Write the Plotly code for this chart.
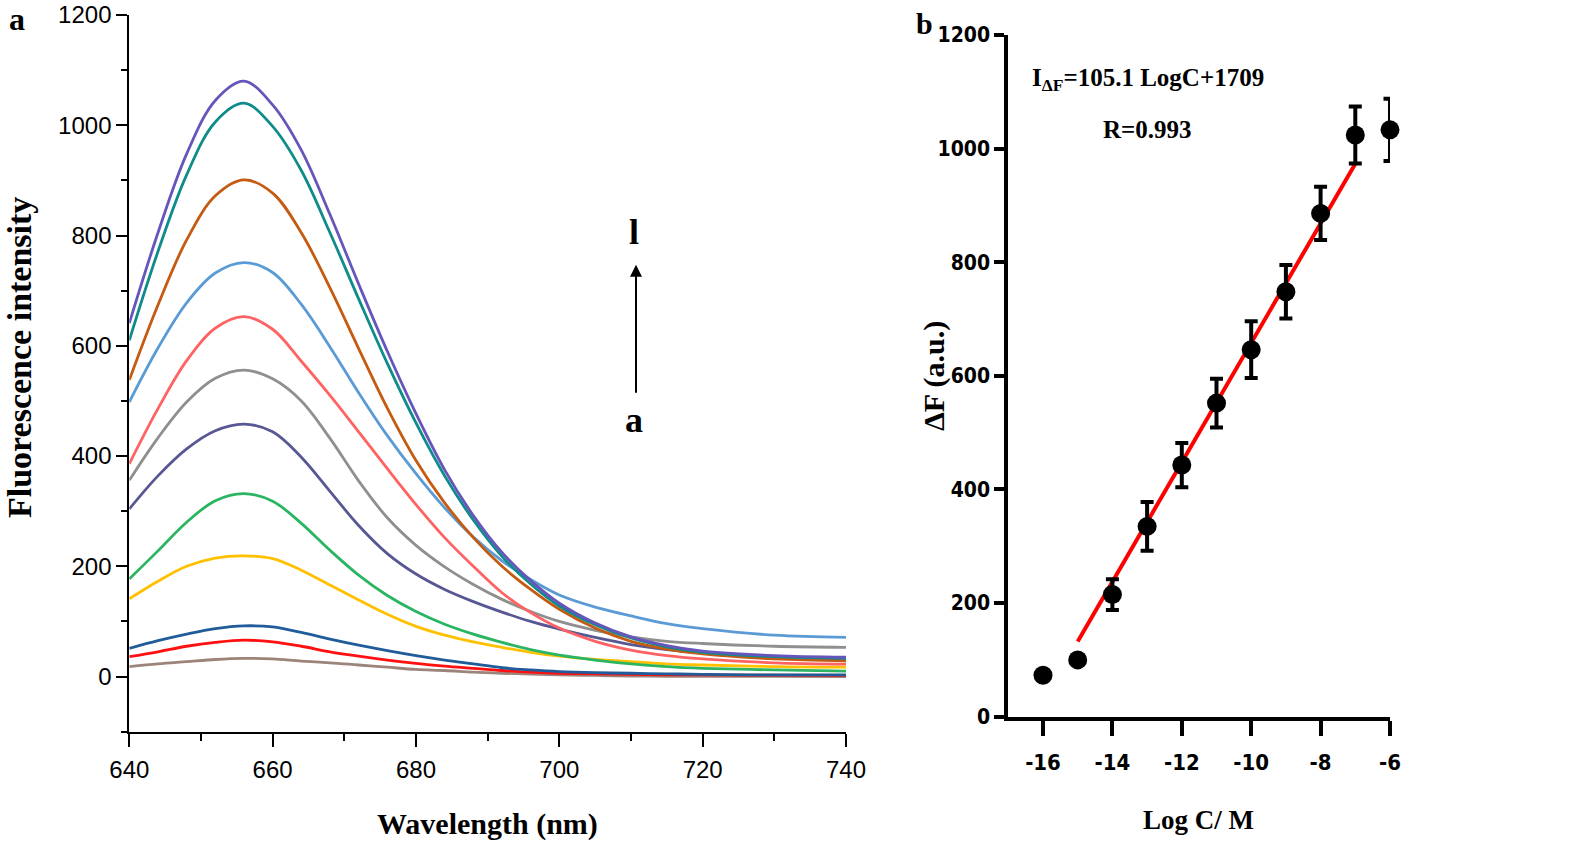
import plotly.graph_objects as go

# ---------------- Panel a: fluorescence spectra ----------------
wavelength = [640, 644, 648, 652, 656, 660, 664, 668, 672, 676, 680, 684, 688,
              692, 696, 700, 705, 710, 715, 720, 730, 740]

curve_a = [18, 23, 27, 31, 33, 32, 28, 25, 21, 17, 13, 11, 8, 6, 4.5, 3, 2, 1, 0.5, 0.5, 0.3, 0]
curve_b = [36, 45, 55, 62, 66, 63, 55, 45, 37, 30, 24, 19, 15, 11, 8, 6, 5, 4, 3, 3, 2.5, 2]
curve_c = [51, 65, 77, 87, 92, 90, 80, 68, 57, 47, 38, 30, 23, 16, 12, 9, 7, 6, 5, 4, 3, 3]
curve_d = [141, 173, 200, 215, 219, 214, 193, 166, 139, 113, 91, 75, 63, 53, 44, 37, 31, 27, 23, 21, 18, 17]
curve_e = [177, 228, 280, 319, 332, 318, 278, 229, 184, 147, 118, 95, 77, 62, 49, 39, 30, 23, 18, 15, 12, 10]
curve_f = [304, 364, 413, 446, 458, 444, 398, 336, 274, 223, 186, 158, 136, 117, 100, 86, 71, 58, 49, 43, 35, 31]
curve_g = [356, 433, 498, 541, 556, 540, 500, 432, 355, 288, 238, 199, 167, 140, 118, 100, 84, 72, 64, 60, 55, 53]
curve_h = [386, 486, 573, 632, 653, 630, 572, 510, 444, 377, 312, 252, 200, 152, 116, 88, 64, 48, 38, 32, 25, 22.5]
curve_i = [498, 596, 678, 732, 751, 733, 675, 598, 515, 437, 368, 306, 253, 210, 176, 148, 126, 110, 96, 87, 75, 71]
curve_j = [538, 674, 792, 872, 901, 877, 805, 705, 595, 487, 392, 315, 252, 200, 158, 122, 88, 64, 50, 41, 32, 28.5]
curve_k = [610, 771, 910, 1006, 1040, 998, 918, 805, 685, 568, 460, 364, 284, 218, 168, 128, 94, 70, 54, 44, 36, 33]
curve_l = [641, 805, 948, 1045, 1080, 1037, 955, 838, 712, 590, 477, 375, 292, 225, 174, 133, 97, 72, 56, 46, 38, 35]

curve_names = ["a", "b", "c", "d", "e", "f", "g", "h", "i", "j", "k", "l"]
curves = [curve_a, curve_b, curve_c, curve_d, curve_e, curve_f,
          curve_g, curve_h, curve_i, curve_j, curve_k, curve_l]
curve_colors = ["#9C847A", "#FF1010", "#1F5C99", "#FFC000", "#2BB562", "#575794",
                "#8F8F8F", "#FF6262", "#5B9BD5", "#C55A11", "#0E8C8A", "#6655BB"]

# ---------------- Panel b: calibration ----------------
log_c = [-16, -15, -14, -13, -12, -11, -10, -9, -8, -7, -6]
delta_f = [73, 100, 215, 335, 443, 552, 646, 748, 886, 1024, 1033]
delta_f_err = [0, 0, 27, 43, 39, 43, 50, 47, 47, 50, 55]
fit_slope = 105.1
fit_intercept = 1709
fit_range = [-15, -7]
x2_ticks = [-16, -14, -12, -10, -8, -6]
y_ticks = [0, 200, 400, 600, 800, 1000, 1200]

W, H = 1595, 847


def px(x):
    return x / W


def py(y):
    return 1 - y / H


fig = go.Figure()

for name, ys, col in zip(curve_names, curves, curve_colors):
    fig.add_trace(go.Scatter(
        x=wavelength, y=ys, mode="lines", name=name,
        line=dict(color=col, width=2.8, shape="spline", smoothing=1.0),
        xaxis="x", yaxis="y", showlegend=False, hoverinfo="skip"))

fit_y = [fit_slope * v + fit_intercept for v in fit_range]
fig.add_trace(go.Scatter(
    x=fit_range, y=fit_y, mode="lines",
    line=dict(color="#FF0000", width=4),
    xaxis="x2", yaxis="y2", showlegend=False, cliponaxis=False))

fig.add_trace(go.Scatter(
    x=log_c, y=delta_f, mode="markers",
    marker=dict(color="black", size=19, symbol="circle"),
    error_y=dict(type="data", array=delta_f_err, visible=True,
                 color="black", thickness=4, width=6.5),
    xaxis="x2", yaxis="y2", showlegend=False, cliponaxis=False))

sans = "Liberation Sans, Arial, sans-serif"
serif = "Liberation Serif, Times New Roman, serif"
narrow = "Liberation Sans Narrow, Arial Narrow, DejaVu Sans Condensed, sans-serif"

fig.update_layout(
    width=W, height=H,
    margin=dict(l=0, r=0, t=0, b=0, autoexpand=False),
    paper_bgcolor="white", plot_bgcolor="white",
    showlegend=False,
    xaxis=dict(
        domain=[px(129.3), px(846)], range=[640, 740], anchor="y",
        automargin=False, ticklabeloverflow="allow",
        tickmode="linear", tick0=640, dtick=20,
        ticks="outside", ticklen=13, tickwidth=2, tickcolor="black",
        showline=True, linewidth=2, linecolor="black",
        showgrid=False, zeroline=False,
        minor=dict(dtick=10, tick0=640, ticks="outside", ticklen=7,
                   tickwidth=2, tickcolor="black", showgrid=False),
        tickfont=dict(family=sans, size=24, color="black"),
        ticklabelstandoff=2,
    ),
    yaxis=dict(
        domain=[py(731.7), py(15)], range=[-100, 1200], anchor="x",
        automargin=False, ticklabeloverflow="allow",
        tickmode="array", tickvals=y_ticks,
        ticks="outside", ticklen=11, tickwidth=2, tickcolor="black",
        showline=True, linewidth=2, linecolor="black",
        showgrid=False, zeroline=False,
        minor=dict(dtick=100, tick0=0, ticks="outside", ticklen=6,
                   tickwidth=2, tickcolor="black", showgrid=False),
        tickfont=dict(family=sans, size=24, color="black"),
        ticklabelstandoff=0,
    ),
    xaxis2=dict(
        domain=[px(1008.3), px(1390)], range=[-17, -6], anchor="y2",
        automargin=False, ticklabeloverflow="allow",
        tickmode="array", tickvals=x2_ticks, ticktext=[str(v) for v in x2_ticks],
        ticks="outside", ticklen=15, tickwidth=4, tickcolor="black",
        showline=True, linewidth=4, linecolor="black",
        showgrid=False, zeroline=False,
        tickfont=dict(family=narrow, size=22, color="black", weight="bold"),
        ticklabelstandoff=8,
    ),
    yaxis2=dict(
        domain=[py(716.7), py(35)], range=[0, 1200], anchor="x2",
        automargin=False, ticklabeloverflow="allow",
        tickmode="array", tickvals=y_ticks,
        ticks="outside", ticklen=10, tickwidth=4, tickcolor="black",
        showline=True, linewidth=4, linecolor="black",
        showgrid=False, zeroline=False,
        tickfont=dict(family=narrow, size=21, color="black", weight="bold"),
        ticklabelstandoff=0,
    ),
)

annotations = [
    dict(text="<b>a</b>", x=px(17), y=py(19), font=dict(family=serif, size=32)),
    dict(text="<b>b</b>", x=px(924), y=py(24), font=dict(family=serif, size=30)),
    dict(text="<b>Fluorescence intensity</b>", x=px(19), y=py(358), textangle=-90,
         font=dict(family=serif, size=34)),
    dict(text="<b>Wavelength (nm)</b>", x=px(488), y=py(824),
         font=dict(family=serif, size=30)),
    dict(text="<b>ΔF (a.u.)</b>", x=px(934), y=py(376), textangle=-90,
         font=dict(family=serif, size=30)),
    dict(text="<b>Log C/ M</b>", x=px(1198), y=py(820),
         font=dict(family=serif, size=27)),
    dict(text="<b>I<sub>ΔF</sub>=105.1 LogC+1709</b>", x=px(1148), y=py(80),
         font=dict(family=serif, size=25)),
    dict(text="<b>R=0.993</b>", x=px(1147), y=py(130),
         font=dict(family=serif, size=25)),
    dict(text="<b>l</b>", x=px(634), y=py(232), font=dict(family=serif, size=36)),
    dict(text="<b>a</b>", x=px(634), y=py(420), font=dict(family=serif, size=36)),
]
for a in annotations:
    a.update(xref="paper", yref="paper", showarrow=False,
             xanchor="center", yanchor="middle")
    a["font"]["color"] = "black"
    fig.add_annotation(**a)

# reaction-direction arrow (a -> l) in data coordinates of panel a
fig.add_annotation(x=710.7, y=747, ax=710.7, ay=512, xref="x", yref="y",
                   axref="x", ayref="y", showarrow=True, arrowhead=2,
                   arrowsize=1.2, arrowwidth=2, arrowcolor="black", text="")

# remove the browser's default 8px body margin so the figure fills the window
fig.write_html("out.html", config={"displayModeBar": False},
               post_script="document.body.style.margin='0';document.body.style.overflow='hidden';")
